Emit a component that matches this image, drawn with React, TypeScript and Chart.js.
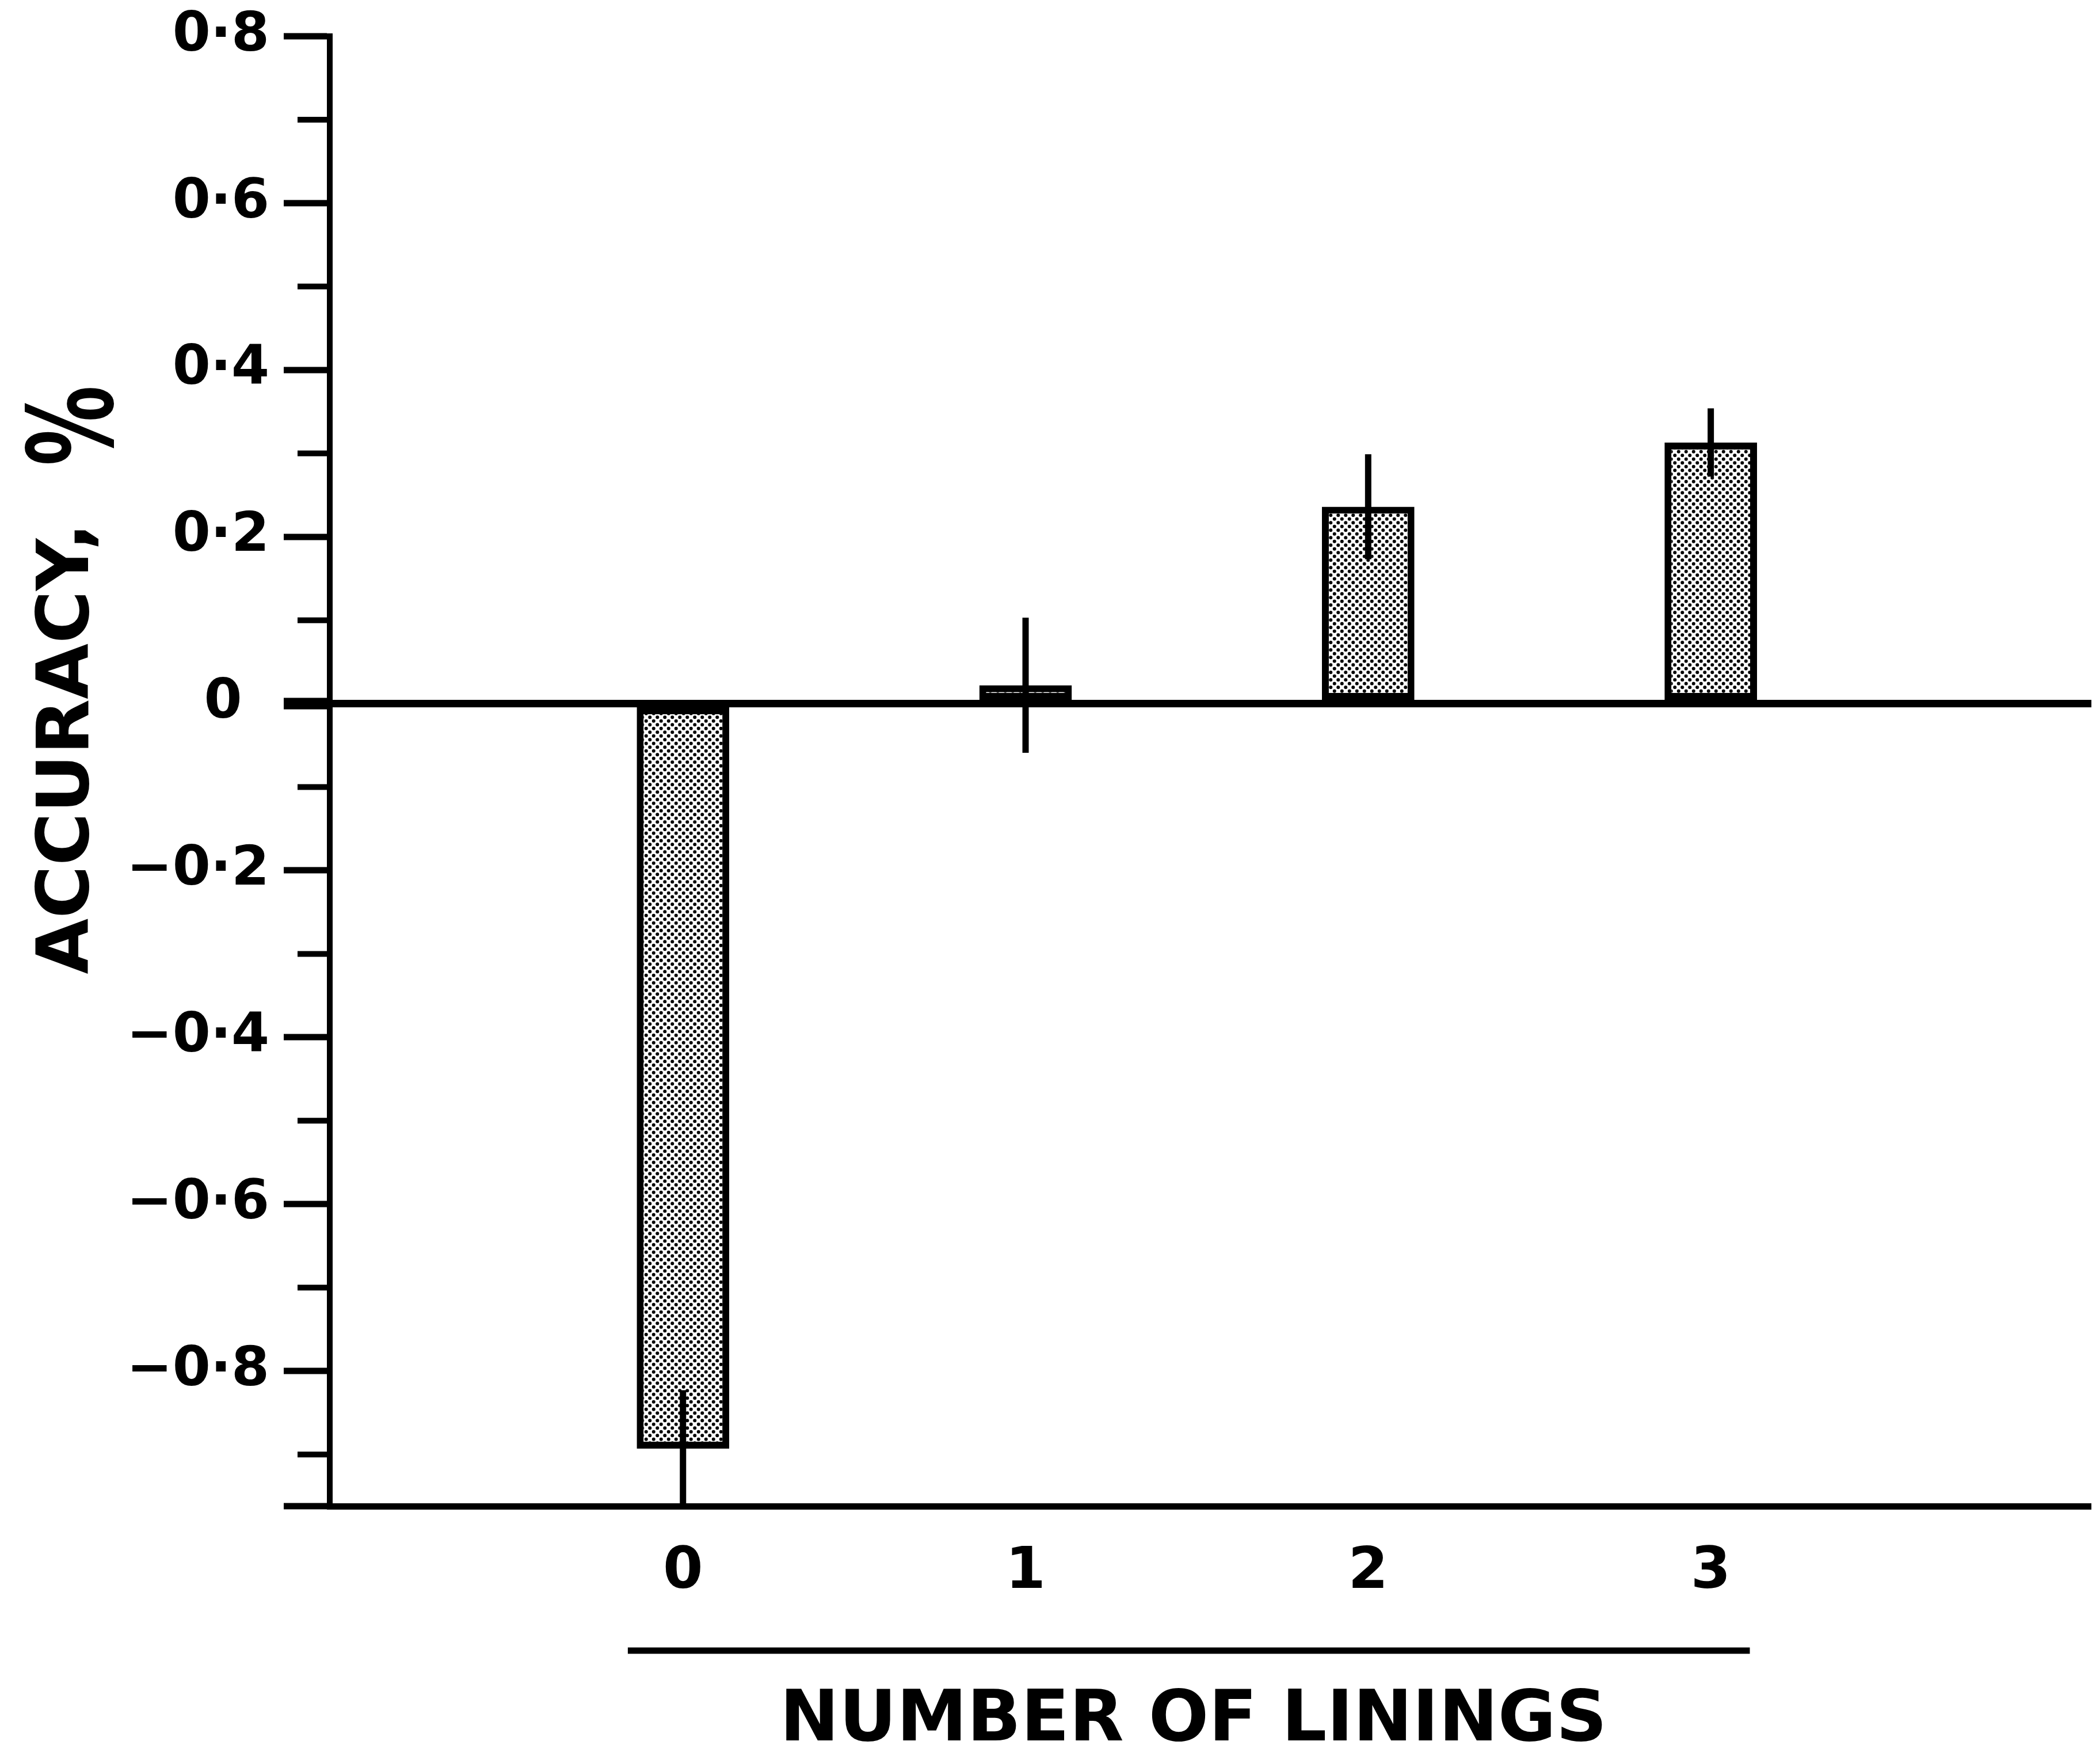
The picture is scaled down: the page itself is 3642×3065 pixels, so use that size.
import { useEffect, useRef } from 'react';
import { Chart, registerables } from 'chart.js';

Chart.register(...registerables);

// ---- data ----
const categories = [0, 1, 2, 3];
const categoryLabels = ['0', '1', '2', '3'];
const accuracyValues = [-0.893, 0.022, 0.236, 0.313];
const errorValues = [0.07, 0.081, 0.063, 0.041];
const yMajorTicks = [0.8, 0.6, 0.4, 0.2, 0, -0.2, -0.4, -0.6, -0.8];
const yMajorLabels = ['0·8', '0·6', '0·4', '0·2', '0', '−0·2', '−0·4', '−0·6', '−0·8'];
const yMinorTicks = [0.7, 0.5, 0.3, 0.1, -0.1, -0.3, -0.5, -0.7, -0.9];
const xTitle = 'NUMBER OF LININGS';
const yTitle = 'ACCURACY, %';

const Y_MIN = -0.962;
const Y_MAX = 0.8;
const X_MIN = -1.031;
const X_MAX = 4.111;

const FONT = '"DejaVu Sans"';

export default function App() {
  const ref = useRef<HTMLCanvasElement>(null);

  useEffect(() => {
    const canvas = ref.current!;
    const ctx = canvas.getContext('2d')!;

    const T = 13;
    const tile = document.createElement('canvas');
    tile.width = T;
    tile.height = T;
    const tg = tile.getContext('2d')!;
    tg.fillStyle = '#ffffff';
    tg.fillRect(0, 0, T, T);
    tg.fillStyle = '#000000';
    [[3.25, 3.25], [9.75, 9.75]].forEach(([px, py]) => {
      tg.beginPath();
      tg.arc(px, py, 3.0, 0, Math.PI * 2);
      tg.fill();
    });
    const stipple = ctx.createPattern(tile, 'repeat')!;

    const decor = {
      id: 'decor',
      afterDatasetsDraw(chart: any) {
        const c = chart.ctx;
        const ys = chart.scales.y;
        const meta = chart.getDatasetMeta(0);
        c.save();
        c.strokeStyle = '#000';
        c.lineWidth = 11;
        c.lineCap = 'butt';
        meta.data.forEach((el: any, i: number) => {
          const v = accuracyValues[i];
          const e = errorValues[i];
          c.beginPath();
          c.moveTo(el.x, ys.getPixelForValue(v + e));
          c.lineTo(el.x, ys.getPixelForValue(v - e));
          c.stroke();
        });
        c.restore();
      },
      afterDraw(chart: any) {
        const c = chart.ctx;
        const ys = chart.scales.y;
        const xs = chart.scales.x;
        const area = chart.chartArea;
        c.save();
        c.strokeStyle = '#000';
        c.lineWidth = 10;
        c.beginPath();
        yMinorTicks.forEach((v) => {
          const py = ys.getPixelForValue(v);
          c.moveTo(area.left, py);
          c.lineTo(area.left - 56, py);
        });
        c.stroke();

        // rule under the category numbers
        c.lineWidth = 11;
        c.beginPath();
        c.moveTo(xs.getPixelForValue(-0.161), area.bottom + 251);
        c.lineTo(xs.getPixelForValue(3.114), area.bottom + 251);
        c.stroke();

        // x title
        c.fillStyle = '#000';
        c.font = `bold 123px ${FONT}`;
        c.textAlign = 'center';
        c.textBaseline = 'middle';
        c.fillText(xTitle, xs.getPixelForValue(1.49), area.bottom + 375);

        // y title (words, then a large per-cent sign)
        const zero = ys.getPixelForValue(0);
        const cut = yTitle.lastIndexOf(' ');
        const words = yTitle.slice(0, cut);
        const sign = yTitle.slice(cut + 1);
        c.save();
        c.translate(145, zero + 470);
        c.rotate(-Math.PI / 2);
        c.font = `bold 125px ${FONT}`;
        c.textAlign = 'left';
        c.textBaseline = 'alphabetic';
        c.fillText(words, 0, 0);
        c.restore();

        c.save();
        c.translate(187, zero - 483);
        c.rotate(-Math.PI / 2);
        c.scale(0.68, 1);
        c.font = `bold 205px ${FONT}`;
        c.textAlign = 'center';
        c.textBaseline = 'alphabetic';
        c.fillText(sign, 0, 0);
        c.restore();

        c.restore();
      },
    };

    const chart = new Chart(ctx, {
      type: 'bar',
      data: {
        datasets: [
          {
            data: categories.map((x, i) => ({ x, y: accuracyValues[i] })),
            backgroundColor: stipple,
            borderColor: '#000',
            borderWidth: 12,
            borderSkipped: false,
            barPercentage: 0.27,
            categoryPercentage: 1,
          },
        ],
      },
      options: {
        animation: false,
        responsive: true,
        maintainAspectRatio: false,
        devicePixelRatio: 1,
        events: [],
        layout: { padding: { top: 55, left: 0, right: 0, bottom: 0 } },
        plugins: { legend: { display: false }, tooltip: { enabled: false } },
        scales: {
          x: {
            type: 'linear',
            min: X_MIN,
            max: X_MAX,
            offset: false,
            afterBuildTicks: (scale: any) => {
              scale.ticks = categories.map((v) => ({ value: v }));
            },
            afterFit: (scale: any) => {
              scale.height = 440;
            },
            grid: { display: false, offset: false },
            border: { display: true, color: '#000', width: 11 },
            ticks: {
              autoSkip: false,
              maxRotation: 0,
              padding: 58,
              color: '#000',
              font: { family: 'DejaVu Sans', weight: 'bold', size: 100, lineHeight: 1 },
              callback: (value: any) => {
                const i = categories.indexOf(Number(value));
                return i >= 0 ? categoryLabels[i] : '';
              },
            },
          },
          y: {
            type: 'linear',
            min: Y_MIN,
            max: Y_MAX,
            afterBuildTicks: (scale: any) => {
              scale.ticks = [...yMajorTicks, Y_MIN].map((v) => ({ value: v }));
            },
            afterFit: (scale: any) => {
              scale.width = 565;
            },
            grid: {
              drawOnChartArea: true,
              tickLength: 80,
              color: (c: any) => (c.tick && c.tick.value === 0 ? '#000' : 'rgba(0,0,0,0)'),
              lineWidth: (c: any) => (c.tick && c.tick.value === 0 ? 13 : 10),
              tickColor: '#000',
              tickWidth: (c: any) => (c.tick && c.tick.value === 0 ? 20 : 11),
            },
            border: { display: true, color: '#000', width: 10 },
            ticks: {
              autoSkip: false,
              padding: 25,
              color: '#000',
              font: { family: 'DejaVu Sans', weight: 'bold', size: 95, lineHeight: 0.3 },
              callback: (value: any) => {
                const i = yMajorTicks.indexOf(Number(value));
                if (i < 0) return '';
                const lbl = yMajorLabels[i];
                return lbl === '0' ? lbl + '\u2002' : lbl;
              },
            },
          },
        },
      },
      plugins: [decor],
    } as any);

    return () => chart.destroy();
  }, []);

  return (
    <div style={{ width: 3626, height: 3049, position: 'relative' }}>
      <canvas ref={ref} />
    </div>
  );
}
